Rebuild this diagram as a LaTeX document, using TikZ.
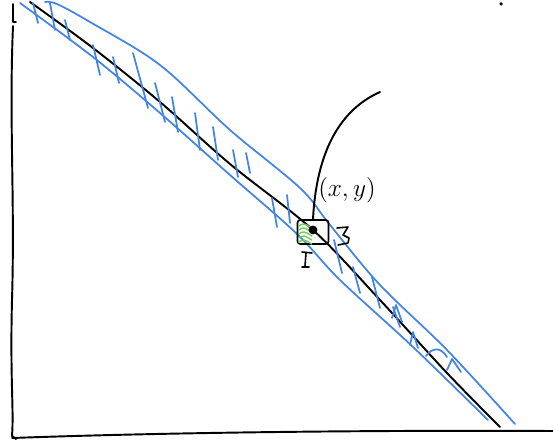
\documentclass[tikz,border=0pt]{standalone}
\usepackage{tikz}
\usetikzlibrary{positioning,calc}

\definecolor{penblue}{RGB}{66,133,230}
\definecolor{pengreen}{RGB}{120,200,90}

\begin{document}
\begin{tikzpicture}[
  x=0.02cm, y=-0.02cm,
  ink/.style={draw=black, line width=1.1pt, line cap=round, line join=round},
  band/.style={draw=penblue, line width=1pt, line cap=round, line join=round},
  hatch/.style={band},
  fine/.style={draw=pengreen, line width=0.8pt, line cap=round},
  pointbox/.style={draw, line width=0.9pt, rounded corners=1.5pt, minimum width=0.62cm, minimum height=0.48cm, inner sep=0pt},
  dot/.style={circle, fill=black, inner sep=0pt, minimum size=5pt},
  lab/.style={font=\fontsize{15}{15}\selectfont, inner sep=1pt}]

\useasboundingbox (0,0) rectangle (553,445);

% axes
\draw[ink] (16,22) -- (13,22) -- (13,4);
\draw[ink] (13,26) .. controls (9,120) and (15,200) .. (12,300) .. controls (10,380) and (14,410) .. (12,436) -- (16,439);
\draw[ink] (12,438) .. controls (150,433) and (350,430) .. (553,431);

% band round the line
\draw[band] plot[smooth, tension=0.55] coordinates {(20,3) (93,57) (160,113)
  (230,175) (297,234) (340,280) (413,347) (488,420)};
\draw[band] plot[smooth, tension=0.55] coordinates {(45,2) (57,4) (90,22) (160,65)
  (230,130) (300,188) (330,225) (380,285) (447,350) (515,424)};

% the line
\draw[ink] plot[smooth, tension=0.55] coordinates {(30,2) (93,48) (160,102)
  (230,164) (313,230) (380,300) (447,373) (500,427)};

% hatching across the band
\foreach \xa/\ya/\xb/\yb in {33/3/38/23, 50/3/55/30, 65/20/70/40, 93/45/100/75,
  113/57/119/83, 133/53/148/108, 155/83/165/122, 172/97/178/132, 195/113/200/150,
  213/127/218/160, 233/150/238/177, 246/153/250/173, 272/198/277/227,
  287/195/290/223, 334/240/342/273, 353/267/360/293, 372/277/380/308,
  393/307/400/327}
  \draw[hatch] (\xa,\ya) -- (\xb,\yb);
\draw[hatch] (392,318) -- (396,305) -- (402,322);
\draw[hatch] (410,345) -- (413,332) -- (418,348);
\draw[hatch] (426,356) .. controls (432,348) and (440,346) .. (447,357);
\draw[hatch] (447,370) -- (452,359) -- (461,372);

% the point and its small box
\node[pointbox] (box) at (313,232) {};
\foreach \i in {0,1,2,3,4}
  \draw[fine] ($(box.west)+(2,-6+4*\i)$) .. controls ++(5,-3) .. ++(13,2);
\node[dot] (pt) at (313,230) {};
\draw[ink, line width=0.9pt] (337,228) -- (348,227) -- (343,235) -- (349,238) -- (348,243) -- (338,245);
\draw[ink, line width=0.9pt] (302,252) -- (312,253) (306,253) -- (305,266) (302,267) -- (309,267);

% the curve and the label
\coordinate (top) at (380,92);
\draw[ink] (box.north) .. controls (316,160) and (335,112) .. (top);
\node[lab] (xy) at (347,190) {$(x,y)$};

\node[circle, fill=black, inner sep=0pt, minimum size=2pt] (mark) at (501,4) {};
\end{tikzpicture}
\end{document}
